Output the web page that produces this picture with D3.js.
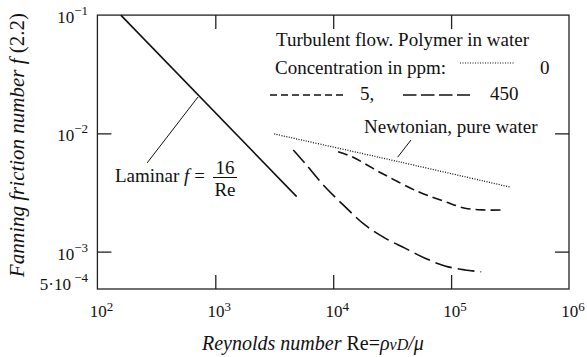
<!DOCTYPE html>
<html>
<head>
<meta charset="utf-8">
<script src="https://cdn.jsdelivr.net/npm/d3@7"></script>
<style>
  body { margin: 0; background: #fff; }
  svg { display: block; font-family: "Liberation Serif", "Times New Roman", serif; }
</style>
</head>
<body>
<svg id="chart" width="587" height="357"></svg>
<script>
// tick values and their labels
const reTicks = [1e2, 1e3, 1e4, 1e5, 1e6];
const reTickExp = ["2", "3", "4", "5", "6"];
const fTicks = [1e-1, 1e-2, 1e-3, 5e-4];
const fTickPre = ["10", "10", "10", "5·10"];
const fTickExp = ["−1", "−2", "−3", " −4"];

// curves (Re, f)
const laminarRe = [158, 4900];
const laminarF = [0.1, 0.00292];
const waterRe = [3160, 35600, 322000];
const waterF = [0.00989, 0.00577, 0.0035];
const ppm5Re = [11000, 14400, 25800, 52700, 88700, 131000, 194000, 265000];
const ppm5F = [0.0070, 0.00635, 0.0046, 0.00321, 0.00265, 0.00233, 0.00225, 0.00225];
const ppm450Re = [4590, 5770, 8510, 12600, 18600, 27500, 40600, 60100, 88700, 131000, 180000];
const ppm450F = [0.00724, 0.00558, 0.00354, 0.0024, 0.00168, 0.0013, 0.00107, 0.00088, 0.000757, 0.0007, 0.000675];

const plot = { left: 97.4, right: 569, top: 15.1, bottom: 289 };

const svg = d3.select("#chart");

const x = d3.scaleLog().domain([1e2, 1e6]).range([plot.left, plot.right]);
const y = d3.scaleLog().domain([4.83e-4, 0.1]).range([plot.bottom, plot.top]);

// frame
svg.append("rect")
  .attr("x", plot.left).attr("y", plot.top)
  .attr("width", plot.right - plot.left).attr("height", plot.bottom - plot.top)
  .attr("fill", "none").attr("stroke", "#222").attr("stroke-width", 1.3);

// inward ticks on all four sides
const innerX = [1e3, 1e4, 1e5];
const innerY = [1e-2, 1e-3];
const tickStyle = g => g.call(g => g.select(".domain").remove())
  .call(g => g.selectAll(".tick line").attr("stroke", "#222").attr("stroke-width", 1.3));

svg.append("g").attr("transform", `translate(0,${plot.bottom})`)
  .call(d3.axisBottom(x).tickValues(innerX).tickSize(-14).tickFormat(""))
  .call(tickStyle);
svg.append("g").attr("transform", `translate(0,${plot.top})`)
  .call(d3.axisTop(x).tickValues(innerX).tickSize(-14).tickFormat(""))
  .call(tickStyle);
svg.append("g").attr("transform", `translate(${plot.left},0)`)
  .call(d3.axisLeft(y).tickValues(innerY).tickSize(-14).tickFormat(""))
  .call(tickStyle);
svg.append("g").attr("transform", `translate(${plot.right},0)`)
  .call(d3.axisRight(y).tickValues(innerY).tickSize(-14).tickFormat(""))
  .call(tickStyle);

// tick labels
const xl = svg.append("g").attr("font-size", 17).attr("fill", "#111");
reTicks.forEach((v, i) => {
  const t = xl.append("text").attr("x", x(v) + 4).attr("y", 317).attr("text-anchor", "middle");
  t.append("tspan").text("10");
  t.append("tspan").attr("font-size", 13).attr("dy", -6).text(reTickExp[i]);
});
const yl = svg.append("g").attr("font-size", 17).attr("fill", "#111");
fTicks.forEach((v, i) => {
  const t = yl.append("text").attr("x", 88).attr("y", Math.min(y(v) + 8, 290)).attr("text-anchor", "end");
  t.append("tspan").text(fTickPre[i]);
  t.append("tspan").attr("font-size", 13).attr("dy", -8).text(fTickExp[i]);
});

// curves
const line = d3.line().x(d => x(d[0])).y(d => y(d[1])).curve(d3.curveCatmullRom);
const curves = [
  { re: laminarRe, f: laminarF, dash: null, w: 1.6 },
  { re: waterRe, f: waterF, dash: "1,1.5", w: 1.3 },
  { re: ppm5Re, f: ppm5F, dash: "10,5", w: 1.6 },
  { re: ppm450Re, f: ppm450F, dash: "17,6", w: 1.6 }
];
svg.append("g").selectAll("path")
  .data(curves)
  .enter()
  .append("path")
  .attr("d", c => line(c.re.map((r, i) => [r, c.f[i]])))
  .attr("fill", "none")
  .attr("stroke", "#111")
  .attr("stroke-width", c => c.w)
  .attr("stroke-dasharray", c => c.dash);

// leader lines
svg.append("line")
  .attr("x1", x(264)).attr("y1", y(0.00562))
  .attr("x2", x(713)).attr("y2", y(0.0203))
  .attr("stroke", "#111").attr("stroke-width", 1);
svg.append("line")
  .attr("x1", x(35200)).attr("y1", y(0.00628))
  .attr("x2", x(45700)).attr("y2", y(0.00879))
  .attr("stroke", "#111").attr("stroke-width", 1);

// annotations
const ann = svg.append("g").attr("font-size", 19).attr("fill", "#111");
const lam = ann.append("text").attr("x", 115).attr("y", 182);
lam.append("tspan").text("Laminar ");
lam.append("tspan").attr("font-style", "italic").text("f");
lam.append("tspan").text(" =");
ann.append("text").attr("x", 225).attr("y", 174).attr("text-anchor", "middle").text("16");
ann.append("line").attr("x1", 213).attr("x2", 237).attr("y1", 177.5).attr("y2", 177.5)
  .attr("stroke", "#111").attr("stroke-width", 1);
ann.append("text").attr("x", 225).attr("y", 196).attr("text-anchor", "middle").text("Re");

ann.append("text").attr("x", 364).attr("y", 133).text("Newtonian, pure water");

ann.append("text").attr("x", 276).attr("y", 45.5).text("Turbulent flow. Polymer in water");
ann.append("text").attr("x", 275).attr("y", 73.5).text("Concentration in ppm:");
ann.append("text").attr("x", 540).attr("y", 73.5).text("0");
ann.append("text").attr("x", 360).attr("y", 100).text("5,");
ann.append("text").attr("x", 490).attr("y", 100).text("450");

// legend samples
const leg = svg.append("g").attr("stroke", "#111").attr("fill", "none");
leg.append("line").attr("x1", 460).attr("x2", 515).attr("y1", 63).attr("y2", 63)
  .attr("stroke-width", 1.2).attr("stroke-dasharray", "1,1.5");
leg.append("line").attr("x1", 270).attr("x2", 343).attr("y1", 95).attr("y2", 95)
  .attr("stroke-width", 1.5).attr("stroke-dasharray", "7,4");
leg.append("line").attr("x1", 403).attr("x2", 470).attr("y1", 95).attr("y2", 95)
  .attr("stroke-width", 1.5).attr("stroke-dasharray", "13.5,4.5");

// axis titles
const xt = svg.append("text").attr("x", 202).attr("y", 350).attr("font-size", 20).attr("fill", "#111");
xt.append("tspan").attr("font-style", "italic").text("Reynolds number ");
xt.append("tspan").text("Re=");
xt.append("tspan").attr("font-style", "italic").text("ρ");
xt.append("tspan").attr("font-style", "italic").attr("font-size", 16).text("vD");
xt.append("tspan").attr("font-style", "italic").text("/μ");

const yt = svg.append("text")
  .attr("transform", "translate(24,145) rotate(-90)")
  .attr("text-anchor", "middle").attr("font-size", 21).attr("fill", "#111");
yt.append("tspan").attr("font-style", "italic").text("Fanning friction number f");
yt.append("tspan").text(" (2.2)");
</script>
</body>
</html>
